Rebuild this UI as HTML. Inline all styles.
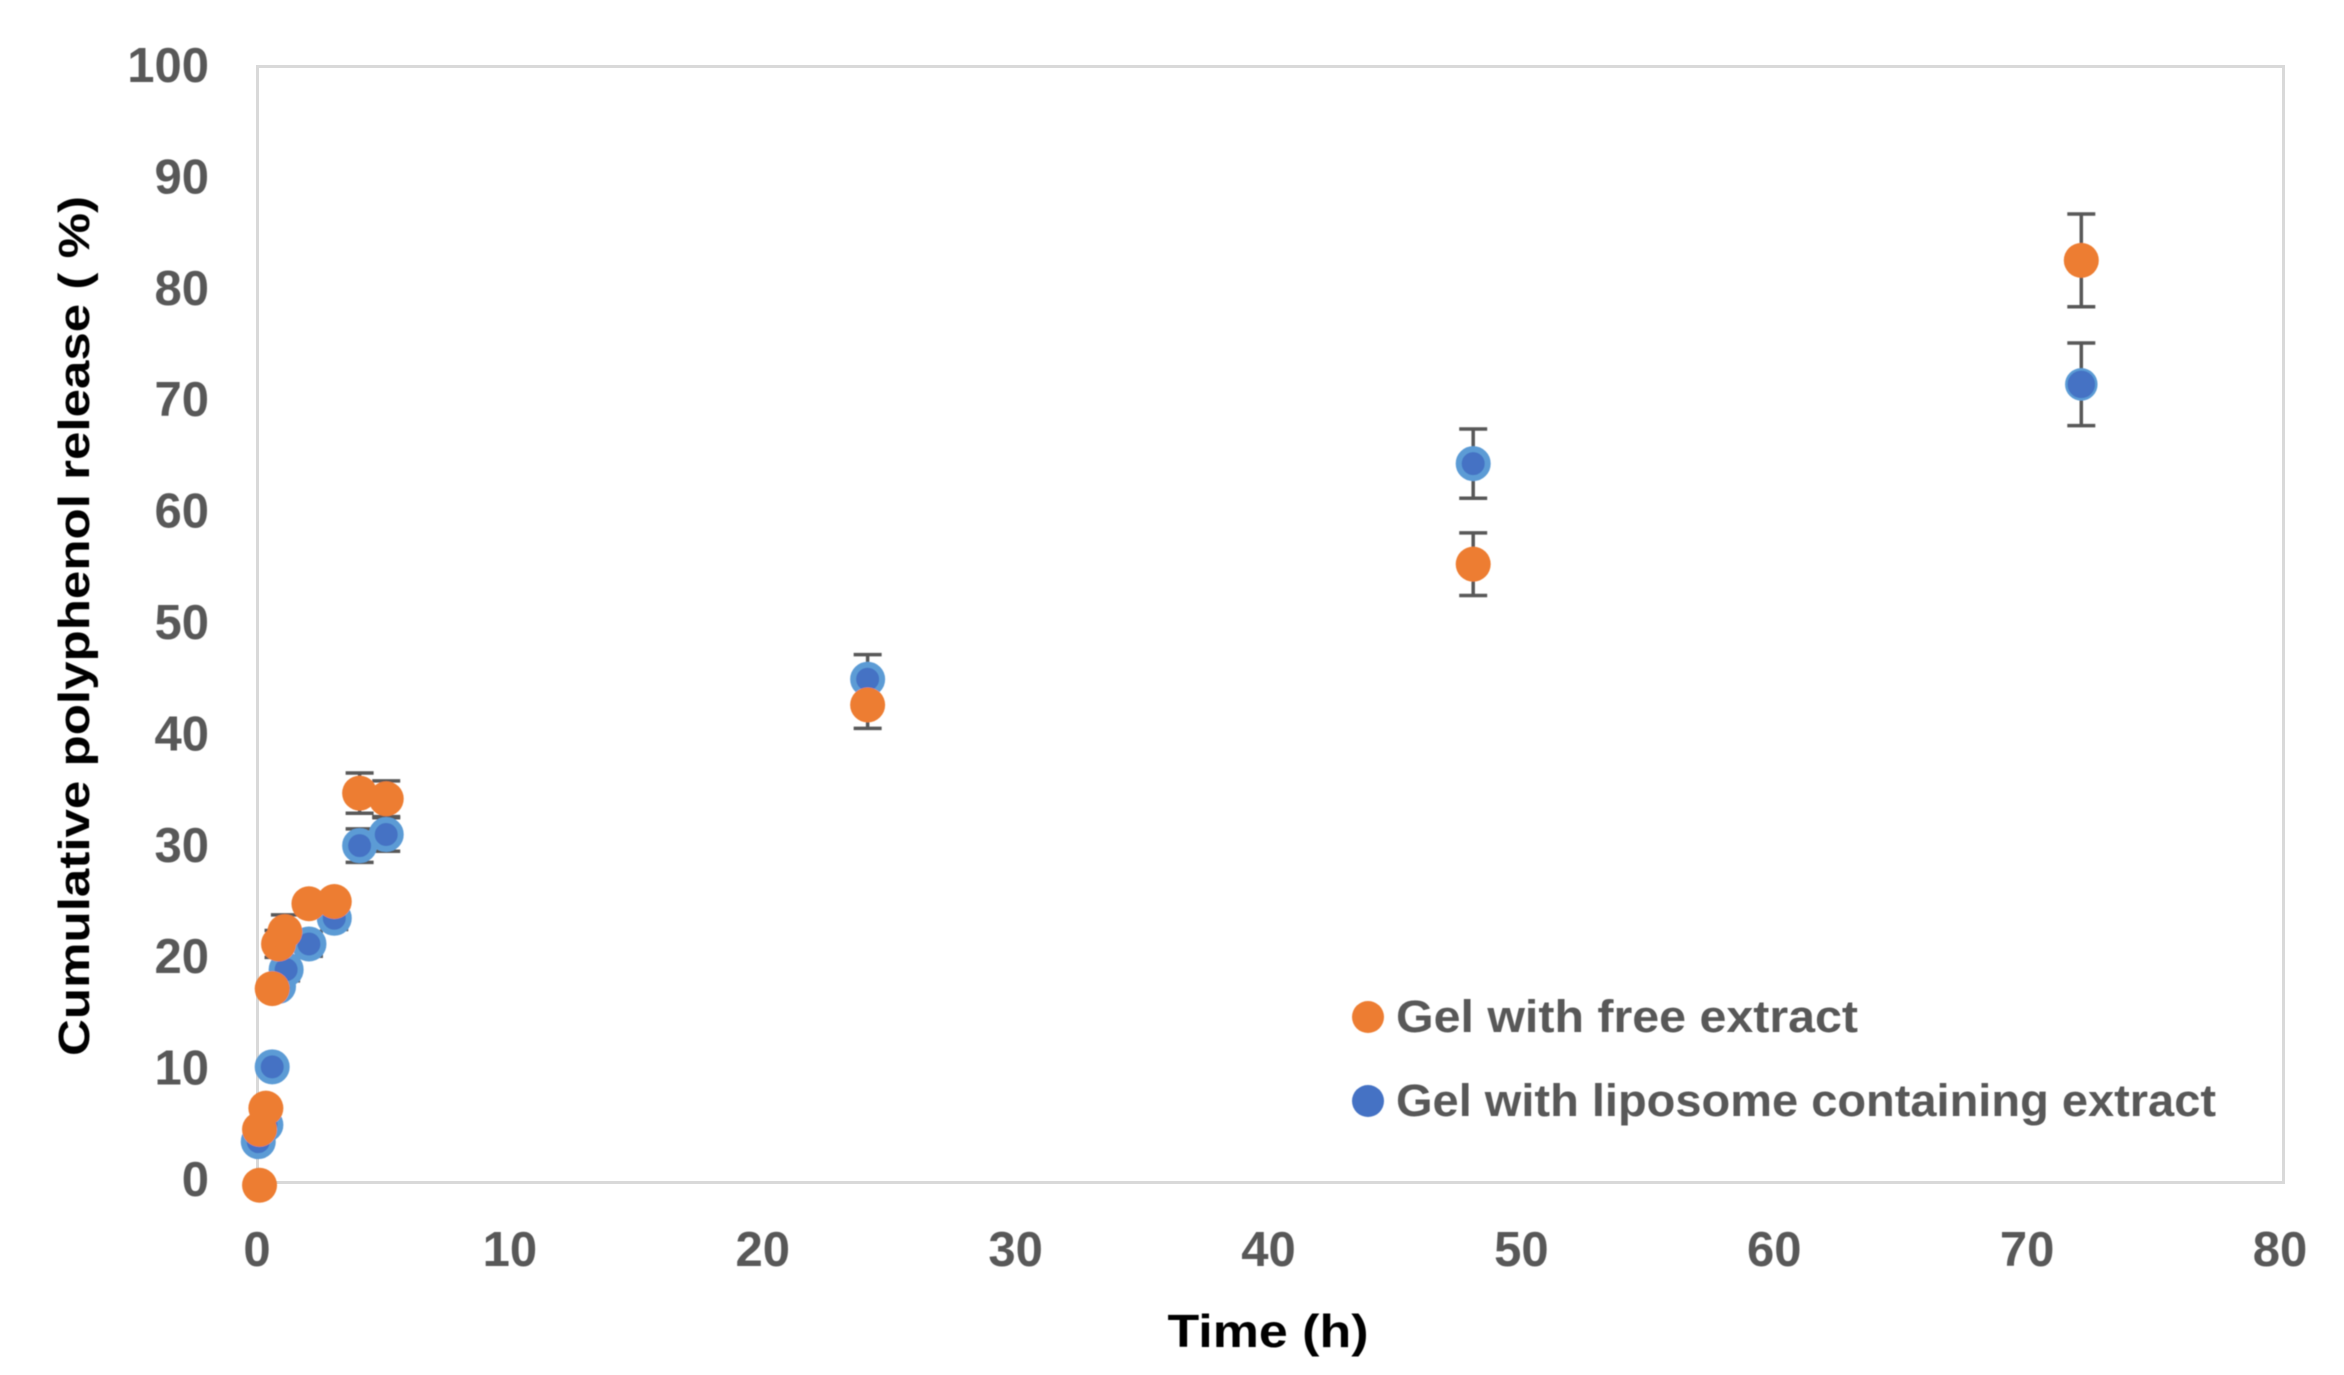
<!DOCTYPE html>
<html>
<head>
<meta charset="utf-8">
<style>
html,body{margin:0;padding:0;background:#fff;}
svg{display:block;}
text{font-family:"Liberation Sans",sans-serif;font-weight:bold;}
</style>
</head>
<body>
<svg id="chart" width="2344" height="1375" viewBox="0 0 2344 1375" xmlns="http://www.w3.org/2000/svg">
  <rect x="257.5" y="66.5" width="2026" height="1116" fill="#fff" stroke="#d9d9d9" stroke-width="3"/>
  <g id="ticks" filter="url(#soft)"></g>
  <g id="marks" filter="url(#soft)"></g>
  <defs><filter id="soft" x="-5%" y="-5%" width="110%" height="110%"><feGaussianBlur stdDeviation="0.6"/></filter></defs>
  <text transform="translate(89,626) rotate(-90)" text-anchor="middle" font-size="44" fill="#000" textLength="860" lengthAdjust="spacingAndGlyphs" filter="url(#soft)">Cumulative polyphenol release ( %)</text>
  <text x="1268" y="1347" text-anchor="middle" font-size="46" fill="#000" textLength="201" lengthAdjust="spacingAndGlyphs" filter="url(#soft)">Time (h)</text>
  <g filter="url(#soft)">
    <circle cx="1368" cy="1017" r="16" fill="#ed7d31"/>
    <text x="1396" y="1032" font-size="45" fill="#595959" textLength="462" lengthAdjust="spacingAndGlyphs">Gel with free extract</text>
    <circle cx="1368" cy="1101" r="16" fill="#4472c4"/>
    <text x="1396" y="1116" font-size="45" fill="#595959" textLength="820" lengthAdjust="spacingAndGlyphs">Gel with liposome containing extract</text>
  </g>
</svg>
<script>
const xTickLabels = [0, 10, 20, 30, 40, 50, 60, 70, 80];
const yTickLabels = [0, 10, 20, 30, 40, 50, 60, 70, 80, 90, 100];
const times = [0.05, 0.35, 0.6, 0.85, 1.15, 2.05, 3.05, 4.05, 5.1, 24.1, 48, 72];
const liposomeValues = [3.7, 5.2, 10.4, 17.6, 19.1, 21.4, 23.7, 30.2, 31.2, 45.1, 64.4, 71.5];
const liposomeErrors = [0.3, 0.4, 0.6, 0.8, 1.0, 1.1, 1.0, 1.5, 1.5, 2.2, 3.1, 3.7];
const freeTimes = [0.1, 0.1, 0.35, 0.6, 0.85, 1.1, 2.05, 3.05, 4.05, 5.1, 24.1, 48, 72];
const freeValues = [-0.2, 4.8, 6.7, 17.4, 21.4, 22.5, 25.0, 25.2, 34.9, 34.4, 42.8, 55.4, 82.6];
const freeErrors = [0, 0.4, 0.5, 0.8, 1.2, 1.5, 0.6, 0.6, 1.8, 1.6, 2.1, 2.8, 4.15];

const NS = 'http://www.w3.org/2000/svg';
const xScale = v => 257 + v * (2284 - 257) / 80;
const yScale = v => 1183 - v * (1183 - 66) / 100;
const xLabelScale = v => 257 + v * (2280 - 257) / 80;
const yLabelScale = v => 1180 - v * (1180 - 66) / 100;
const ticksLayer = document.getElementById('ticks');
const marksLayer = document.getElementById('marks');

function make(tag, parent, attrs) {
  const el = document.createElementNS(NS, tag);
  for (const k in attrs) el.setAttribute(k, attrs[k]);
  parent.appendChild(el);
  return el;
}

xTickLabels.forEach(v => {
  const t = make('text', ticksLayer, {x: xLabelScale(v), y: 1266, 'text-anchor': 'middle', 'font-size': 49, fill: '#595959'});
  
  
  t.textContent = v;
});
yTickLabels.forEach(v => {
  const t = make('text', ticksLayer, {x: 209, y: yLabelScale(v) + 16, 'text-anchor': 'end', 'font-size': 49, fill: '#595959'});
  
  
  t.textContent = v;
});

function drawErrors(xs, values, errors) {
  xs.forEach((t, i) => {
    if (!errors[i]) return;
    const g = make('g', marksLayer, {stroke: '#595959', 'stroke-width': 3.5, fill: 'none'});
    
    
    const cx = xScale(t), top = yScale(values[i] + errors[i]), bot = yScale(values[i] - errors[i]);
    make('line', g, {x1: cx, x2: cx, y1: top, y2: bot});
    make('line', g, {x1: cx - 14, x2: cx + 14, y1: top, y2: top});
    make('line', g, {x1: cx - 14, x2: cx + 14, y1: bot, y2: bot});
  });
}

drawErrors(times, liposomeValues, liposomeErrors);
drawErrors(freeTimes, freeValues, freeErrors);

times.forEach((t, i) => {
  const last = i === times.length - 1;
  const c = make('circle', marksLayer, {cx: xScale(t), cy: yScale(liposomeValues[i]), r: last ? 15 : 14.5, fill: '#4472c4', stroke: '#5b9bd5', 'stroke-width': last ? 2.5 : 6});
  
  
});
freeTimes.forEach((t, i) => {
  const c = make('circle', marksLayer, {cx: xScale(t), cy: yScale(freeValues[i]), r: 17.5, fill: '#ed7d31'});
  
  
});
</script>
</body>
</html>
